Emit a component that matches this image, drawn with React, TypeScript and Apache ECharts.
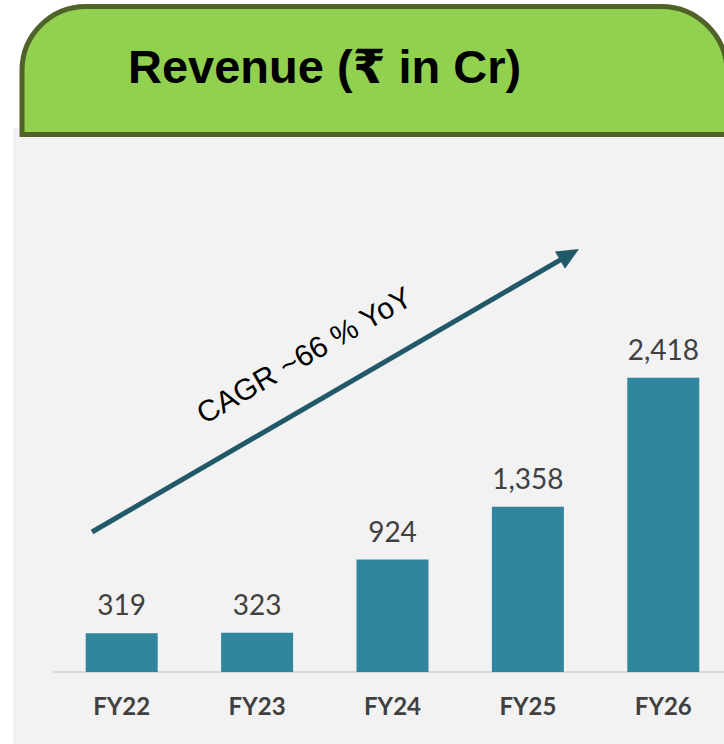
import React, { useEffect, useRef } from "react";
import * as echarts from "echarts";

const categories = ["FY22", "FY23", "FY24", "FY25", "FY26"];
const revenue = [319, 323, 924, 1358, 2418];
const titleText = "Revenue (₹ in Cr)";
const cagrText = "CAGR ~66 % YoY";

export default function App() {
  const ref = useRef<HTMLDivElement>(null);
  useEffect(() => {
    if (!ref.current) return;
    const chart = echarts.init(ref.current, undefined, { renderer: "svg" });
    const tip = [579, 249];
    const start = [92, 532];
    const dx = tip[0] - start[0];
    const dy = tip[1] - start[1];
    const len = Math.sqrt(dx * dx + dy * dy);
    const ux = dx / len, uy = dy / len;
    const nx = -uy, ny = ux;
    const headLen = 22, halfW = 10;
    const bx = tip[0] - headLen * ux, by = tip[1] - headLen * uy;
    chart.setOption({
      animation: false,
      backgroundColor: "#ffffff",
      graphic: [
        { type: "rect", z: -10, shape: { x: 13, y: 128, width: 740, height: 620 }, style: { fill: "#f2f2f2" } },
        { type: "rect", z: 1, shape: { x: 22, y: 6.5, width: 705, height: 128, r: [64, 66, 0, 0] }, style: { fill: "#92d050", stroke: "#4f6228", lineWidth: 5 } },
        { type: "text", z: 2, x: 128, y: 66, style: { text: titleText, font: "bold 47px 'Liberation Sans', Arial, 'DejaVu Sans', sans-serif", fill: "#000000", align: "left", verticalAlign: "middle" } },
        { type: "line", z: 2, shape: { x1: start[0], y1: start[1], x2: bx + 2 * ux, y2: by + 2 * uy }, style: { stroke: "#215968", lineWidth: 5 } },
        { type: "polygon", z: 2, shape: { points: [[tip[0], tip[1]], [bx + halfW * nx, by + halfW * ny], [bx - halfW * nx, by - halfW * ny]] }, style: { fill: "#215968" } },
        { type: "text", z: 2, x: 304, y: 355, rotation: Math.PI / 6, style: { text: cagrText, font: "30px 'Liberation Sans', Arial, sans-serif", fill: "#000000", align: "center", verticalAlign: "middle" } },
      ],
      grid: { left: 54, width: 677, top: 307, bottom: 72, containLabel: false },
      xAxis: {
        type: "category",
        data: categories,
        axisLine: { show: true, lineStyle: { color: "#d9d9d9", width: 2 } },
        axisTick: { show: false },
        axisLabel: { color: "#404040", fontFamily: "Lato", fontWeight: "bold", fontSize: 24, margin: 21 },
      },
      yAxis: { type: "value", min: 0, max: 3000, show: false, splitLine: { show: false } },
      series: [
        {
          type: "bar",
          data: revenue,
          barWidth: 72,
          itemStyle: { color: "#31859c" },
          label: {
            show: true,
            position: "top",
            distance: 15,
            color: "#404040",
            fontFamily: "Lato",
            fontSize: 28,
            formatter: (p: any) => Number(p.value).toLocaleString("en-US"),
          },
        },
      ],
    });
    return () => chart.dispose();
  }, []);
  return <div ref={ref} style={{ position: "fixed", left: 0, top: 0, width: 740, height: 744 }} />;
}
